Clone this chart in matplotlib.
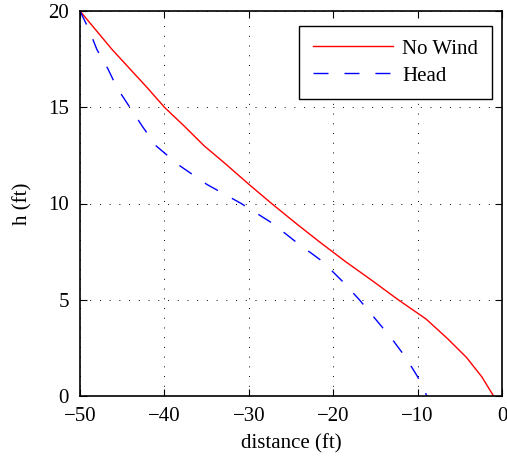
import numpy as np
import matplotlib
matplotlib.use('Agg')
import matplotlib.pyplot as plt

# Heights (ft) and the matching horizontal distance for each case
h_no_wind = [20, 19, 18, 17, 16, 15, 14, 13, 12, 11, 10, 9, 8, 7, 6, 5, 4, 3, 2, 1, 0]
d_no_wind = [-50, -48.1, -46.2, -44.1, -42.0, -40.0, -37.6, -35.3, -32.6, -30.0, -27.3,
             -24.5, -21.6, -18.6, -15.4, -12.3, -9.0, -6.5, -4.2, -2.4, -1.0]

h_head = [20, 19, 18, 17, 16, 15, 14, 13, 12, 11, 10, 9, 8, 7, 6, 5, 4, 3, 2, 1, 0]
d_head = [-50, -48.9, -48.0, -46.7, -45.6, -44.1, -42.6, -41.0, -38.3, -35.0, -30.9,
          -27.3, -24.4, -21.3, -19.0, -16.9, -15.0, -13.1, -11.4, -10.0, -8.9]

x_ticks = [-50, -40, -30, -20, -10, 0]
y_ticks = [0, 5, 10, 15, 20]

plt.rcParams['font.family'] = ['Liberation Serif', 'DejaVu Serif']
plt.rcParams['font.size'] = 15

fig = plt.figure(figsize=(5.07, 4.58), dpi=100)
ax = fig.add_axes([80 / 507, 1 - 396 / 458, 422 / 507, 385 / 458])

ax.plot(d_no_wind, h_no_wind, color='red', lw=1.0, label='No Wind')
ax.plot(d_head, h_head, color='blue', lw=1.0, dashes=(10.8, 11.5), label='Head')

ax.set_xlim(-50, 0)
ax.set_ylim(0, 20)
ax.set_xticks(x_ticks)
ax.set_yticks(y_ticks)
ax.set_xlabel('distance (ft)', va='center')
ax.set_ylabel('h (ft)', va='center')
ax.xaxis.set_label_coords(0.5, -0.125)
ax.yaxis.set_label_coords(-0.135, 0.5)

ax.grid(True, color='black', linestyle=(0, (1, 9)), lw=0.7)
ax.tick_params(direction='in', top=True, right=True, length=5, width=0.8, pad=8)
for s in ax.spines.values():
    s.set_linewidth(1.2)

leg = ax.legend(loc='upper right', bbox_to_anchor=(0.976, 0.962), borderaxespad=0,
                fancybox=False, framealpha=1, edgecolor='black', handlelength=3.84,
                handletextpad=0.45, borderpad=0.65, labelspacing=0.35)
leg.get_frame().set_linewidth(1.0)

fig.savefig('out.png', dpi=100)
